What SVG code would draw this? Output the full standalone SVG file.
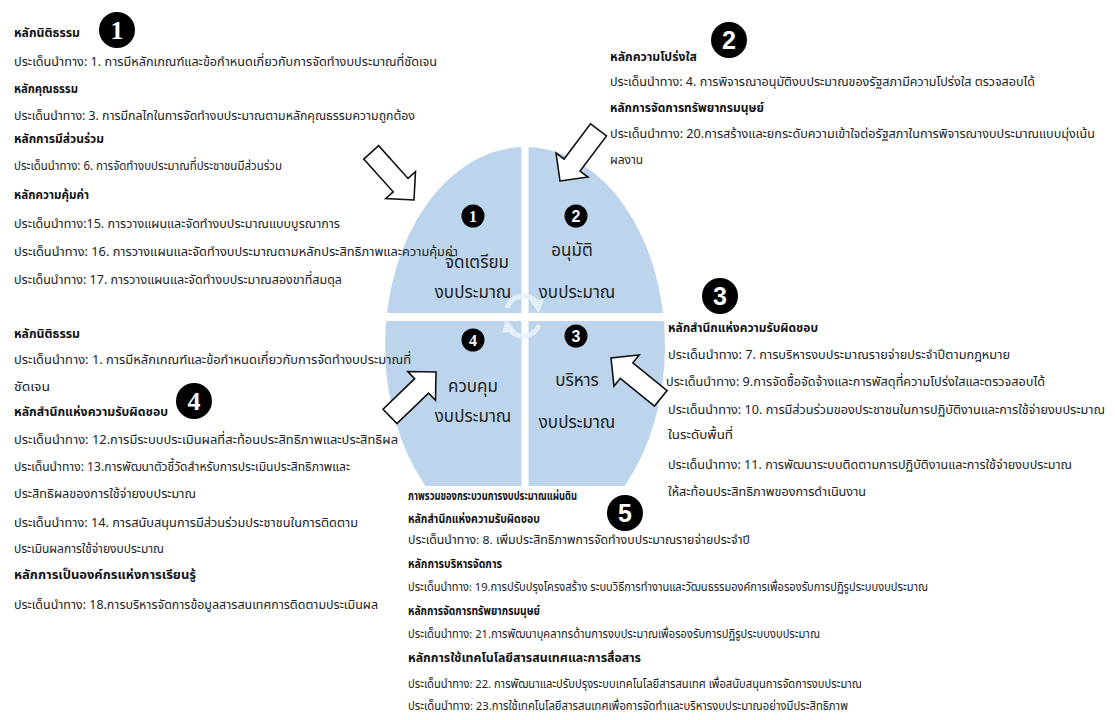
<svg xmlns="http://www.w3.org/2000/svg" width="1115" height="720" viewBox="0 0 1115 720">
  <style>
    text { font-family: "Noto Sans Thai", "Tahoma", "Leelawadee UI", "Loma", "Garuda", "Noto Sans", sans-serif; fill: #222; }
    .h { font-size: 13px; font-weight: bold; fill: #111; }
    .t { font-size: 13px; }
    .hs { font-size: 11.5px; font-weight: bold; fill: #111; }
    .ts { font-size: 11.5px; }
    .q { font-size: 17px; text-anchor: middle; fill: #222; }
    .badge { fill: #000; }
    .bn { fill: #fff; font-family: "Liberation Sans", sans-serif; font-weight: bold; text-anchor: middle; }
    .bns { fill: #fff; font-family: "Liberation Serif", serif; font-weight: bold; text-anchor: middle; }
    .blk { fill: #fff; stroke: #111; stroke-width: 1.6; stroke-linejoin: miter; }
    .cyc { fill: none; stroke: #e9f0f8; stroke-width: 5; opacity: 0.9; }
    .cych { fill: #e9f0f8; opacity: 0.9; }
  </style>
  <defs>
    <!-- hollow block arrow, tip at origin, pointing along +x -->
    <path id="blockArrow" d="M0,0 L-20,-20 L-20,-10 L-64,-10 L-64,10 L-20,10 L-20,20 Z"/>
  </defs>

  <rect width="1115" height="720" fill="#fff"/>

  <!-- budget cycle ellipse split into four quadrants -->
  <g id="cycle">
    <ellipse cx="525" cy="346" rx="140" ry="199" fill="#bcd5ec"/>
    <rect x="521.5" y="140" width="7" height="420" fill="#fff"/>
    <rect x="380" y="313" width="290" height="8" fill="#fff"/>
    <!-- white panel under the overview text cuts off the ellipse foot -->
    <rect x="402" y="486" width="262" height="80" fill="#fff"/>
    <!-- circular arrows at the centre -->
    <path class="cyc" d="M507,308 A17,17 0 0 1 536,302"/>
    <polygon class="cych" points="530,301 544,299 539,313"/>
    <path class="cyc" d="M539,325 A17,17 0 0 1 510,330"/>
    <polygon class="cych" points="516,331 502,333 506,319"/>
  </g>

  <g id="q1">
    <circle cx="473" cy="216" r="11.5" class="badge"/>
    <text x="473" y="222" class="bns" font-size="16">1</text>
    <text x="477" y="268" class="q">จัดเตรียม</text>
    <text x="473" y="298" class="q">งบประมาณ</text>
  </g>
  <g id="q2">
    <circle cx="576" cy="216" r="11.5" class="badge"/>
    <text x="576" y="222" class="bn" font-size="16">2</text>
    <text x="572" y="256" class="q">อนุมัติ</text>
    <text x="577" y="298" class="q">งบประมาณ</text>
  </g>
  <g id="q3">
    <circle cx="576" cy="336" r="11.5" class="badge"/>
    <text x="576" y="342" class="bn" font-size="16">3</text>
    <text x="577" y="386" class="q">บริหาร</text>
    <text x="577" y="428" class="q">งบประมาณ</text>
  </g>
  <g id="q4">
    <circle cx="473" cy="340" r="11.5" class="badge"/>
    <text x="473" y="346" class="bns" font-size="16">4</text>
    <text x="473" y="392" class="q">ควบคุม</text>
    <text x="473" y="422" class="q">งบประมาณ</text>
  </g>

  <!-- block arrows pointing into the cycle -->
  <g id="connectors">
    <use href="#blockArrow" class="blk" transform="translate(414,200) rotate(48)"/>
    <use href="#blockArrow" class="blk" transform="translate(560,181) rotate(127)"/>
    <use href="#blockArrow" class="blk" transform="translate(611,358) rotate(219)"/>
    <use href="#blockArrow" class="blk" transform="translate(436,372) rotate(-44)"/>
  </g>

  <!-- stage 1: preparation -->
  <g id="group1">
    <circle cx="117" cy="30" r="18" class="badge"/>
    <text x="117" y="39" class="bns" font-size="26">1</text>
    <text x="14" y="37" class="h" textLength="66" lengthAdjust="spacingAndGlyphs">หลักนิติธรรม</text>
    <text x="14" y="66" class="t" textLength="423" lengthAdjust="spacingAndGlyphs">ประเด็นนำทาง:  1. การมีหลักเกณฑ์และข้อกำหนดเกี่ยวกับการจัดทำงบประมาณที่ชัดเจน</text>
    <text x="14" y="93" class="h" textLength="64" lengthAdjust="spacingAndGlyphs">หลักคุณธรรม</text>
    <text x="14" y="120" class="t" textLength="401" lengthAdjust="spacingAndGlyphs">ประเด็นนำทาง: 3. การมีกลไกในการจัดทำงบประมาณตามหลักคุณธรรมความถูกต้อง</text>
    <text x="14" y="143" class="h" textLength="90" lengthAdjust="spacingAndGlyphs">หลักการมีส่วนร่วม</text>
    <text x="14" y="170" class="t" textLength="268" lengthAdjust="spacingAndGlyphs">ประเด็นนำทาง: 6. การจัดทำงบประมาณที่ประชาชนมีส่วนร่วม</text>
    <text x="14" y="199" class="h" textLength="75" lengthAdjust="spacingAndGlyphs">หลักความคุ้มค่า</text>
    <text x="14" y="228" class="t" textLength="326" lengthAdjust="spacingAndGlyphs">ประเด็นนำทาง:15. การวางแผนและจัดทำงบประมาณแบบบูรณาการ</text>
    <text x="14" y="256" class="t" textLength="444" lengthAdjust="spacingAndGlyphs">ประเด็นนำทาง: 16. การวางแผนและจัดทำงบประมาณตามหลักประสิทธิภาพและความคุ้มค่า</text>
    <text x="14" y="284" class="t" textLength="328" lengthAdjust="spacingAndGlyphs">ประเด็นนำทาง: 17. การวางแผนและจัดทำงบประมาณสองขาที่สมดุล</text>
  </g>

  <!-- stage 2: approval -->
  <g id="group2">
    <circle cx="729" cy="40" r="18" class="badge"/>
    <text x="729" y="49" class="bn" font-size="25">2</text>
    <text x="610" y="61" class="h" textLength="87" lengthAdjust="spacingAndGlyphs">หลักความโปร่งใส</text>
    <text x="610" y="86" class="t" textLength="425" lengthAdjust="spacingAndGlyphs">ประเด็นนำทาง: 4. การพิจารณาอนุมัติงบประมาณของรัฐสภามีความโปร่งใส  ตรวจสอบได้</text>
    <text x="610" y="112" class="h" textLength="154" lengthAdjust="spacingAndGlyphs">หลักการจัดการทรัพยากรมนุษย์</text>
    <text x="610" y="138" class="t" textLength="485" lengthAdjust="spacingAndGlyphs">ประเด็นนำทาง: 20.การสร้างและยกระดับความเข้าใจต่อรัฐสภาในการพิจารณางบประมาณแบบมุ่งเน้น</text>
    <text x="610" y="164" class="t" textLength="33" lengthAdjust="spacingAndGlyphs">ผลงาน</text>
  </g>

  <!-- stage 3: execution -->
  <g id="group3">
    <circle cx="720" cy="296" r="18" class="badge"/>
    <text x="720" y="305" class="bn" font-size="25">3</text>
    <text x="668" y="332" class="h" textLength="150" lengthAdjust="spacingAndGlyphs">หลักสำนึกแห่งความรับผิดชอบ</text>
    <text x="668" y="359" class="t" textLength="342" lengthAdjust="spacingAndGlyphs">ประเด็นนำทาง: 7. การบริหารงบประมาณรายจ่ายประจำปีตามกฎหมาย</text>
    <text x="666" y="386" class="t" textLength="379" lengthAdjust="spacingAndGlyphs">ประเด็นนำทาง: 9.การจัดซื้อจัดจ้างและการพัสดุที่ความโปร่งใสและตรวจสอบได้</text>
    <text x="668" y="414" class="t" textLength="437" lengthAdjust="spacingAndGlyphs">ประเด็นนำทาง: 10. การมีส่วนร่วมของประชาชนในการปฏิบัติงานและการใช้จ่ายงบประมาณ</text>
    <text x="668" y="439" class="t" textLength="65" lengthAdjust="spacingAndGlyphs">ในระดับพื้นที่</text>
    <text x="668" y="469" class="t" textLength="404" lengthAdjust="spacingAndGlyphs">ประเด็นนำทาง: 11. การพัฒนาระบบติดตามการปฏิบัติงานและการใช้จ่ายงบประมาณ</text>
    <text x="668" y="496" class="t" textLength="198" lengthAdjust="spacingAndGlyphs">ให้สะท้อนประสิทธิภาพของการดำเนินงาน</text>
  </g>

  <!-- stage 4: control -->
  <g id="group4">
    <circle cx="194" cy="401" r="18" class="badge"/>
    <text x="194" y="410" class="bns" font-size="26">4</text>
    <text x="14" y="338" class="h" textLength="66" lengthAdjust="spacingAndGlyphs">หลักนิติธรรม</text>
    <text x="14" y="364" class="t" textLength="397" lengthAdjust="spacingAndGlyphs">ประเด็นนำทาง:  1. การมีหลักเกณฑ์และข้อกำหนดเกี่ยวกับการจัดทำงบประมาณที่</text>
    <text x="14" y="391" class="t" textLength="36" lengthAdjust="spacingAndGlyphs">ชัดเจน</text>
    <text x="14" y="416" class="h" textLength="154" lengthAdjust="spacingAndGlyphs">หลักสำนึกแห่งความรับผิดชอบ</text>
    <text x="14" y="444" class="t" textLength="384" lengthAdjust="spacingAndGlyphs">ประเด็นนำทาง: 12.การมีระบบประเมินผลที่สะท้อนประสิทธิภาพและประสิทธิผล</text>
    <text x="14" y="471" class="t" textLength="336" lengthAdjust="spacingAndGlyphs">ประเด็นนำทาง: 13.การพัฒนาตัวชี้วัดสำหรับการประเมินประสิทธิภาพและ</text>
    <text x="14" y="498" class="t" textLength="182" lengthAdjust="spacingAndGlyphs">ประสิทธิผลของการใช้จ่ายงบประมาณ</text>
    <text x="14" y="527" class="t" textLength="344" lengthAdjust="spacingAndGlyphs">ประเด็นนำทาง: 14. การสนับสนุนการมีส่วนร่วมประชาชนในการติดตาม</text>
    <text x="14" y="553" class="t" textLength="150" lengthAdjust="spacingAndGlyphs">ประเมินผลการใช้จ่ายงบประมาณ</text>
    <text x="14" y="579" class="h" textLength="182" lengthAdjust="spacingAndGlyphs">หลักการเป็นองค์กรแห่งการเรียนรู้</text>
    <text x="14" y="609" class="t" textLength="364" lengthAdjust="spacingAndGlyphs">ประเด็นนำทาง: 18.การบริหารจัดการข้อมูลสารสนเทศการติดตามประเมินผล</text>
  </g>

  <!-- stage 5: overall national budget process -->
  <g id="group5">
    <circle cx="625" cy="513" r="18" class="badge"/>
    <text x="625" y="522" class="bn" font-size="25">5</text>
    <text x="408" y="500" class="hs" textLength="169" lengthAdjust="spacingAndGlyphs">ภาพรวมของกระบวนการงบประมาณแผ่นดิน</text>
    <text x="408" y="523" class="hs" textLength="132" lengthAdjust="spacingAndGlyphs">หลักสำนึกแห่งความรับผิดชอบ</text>
    <text x="408" y="544" class="ts" textLength="342" lengthAdjust="spacingAndGlyphs">ประเด็นนำทาง: 8. เพิ่มประสิทธิภาพการจัดทำงบประมาณรายจ่ายประจำปี</text>
    <text x="408" y="568" class="hs" textLength="94" lengthAdjust="spacingAndGlyphs">หลักการบริหารจัดการ</text>
    <text x="408" y="591" class="ts" textLength="520" lengthAdjust="spacingAndGlyphs">ประเด็นนำทาง: 19.การปรับปรุงโครงสร้าง ระบบวิธีการทำงานและวัฒนธรรมองค์การเพื่อรองรับการปฏิรูประบบงบประมาณ</text>
    <text x="408" y="615" class="hs" textLength="132" lengthAdjust="spacingAndGlyphs">หลักการจัดการทรัพยากรมนุษย์</text>
    <text x="408" y="638" class="ts" textLength="412" lengthAdjust="spacingAndGlyphs">ประเด็นนำทาง: 21.การพัฒนาบุคลากรด้านการงบประมาณเพื่อรองรับการปฏิรูประบบงบประมาณ</text>
    <text x="408" y="662" class="hs" textLength="233" lengthAdjust="spacingAndGlyphs">หลักการใช้เทคโนโลยีสารสนเทศและการสื่อสาร</text>
    <text x="408" y="688" class="ts" textLength="454" lengthAdjust="spacingAndGlyphs">ประเด็นนำทาง:  22. การพัฒนาและปรับปรุงระบบเทคโนโลยีสารสนเทศ เพื่อสนับสนุนการจัดการงบประมาณ</text>
    <text x="408" y="710" class="ts" textLength="440" lengthAdjust="spacingAndGlyphs">ประเด็นนำทาง: 23.การใช้เทคโนโลยีสารสนเทศเพื่อการจัดทำและบริหารงบประมาณอย่างมีประสิทธิภาพ</text>
  </g>
</svg>
